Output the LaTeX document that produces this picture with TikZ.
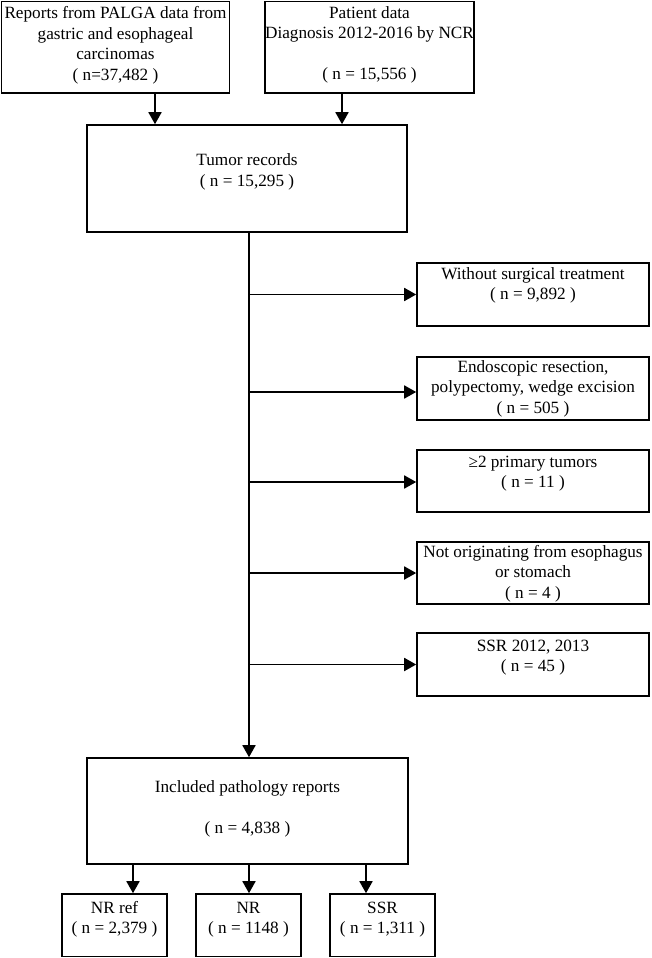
\documentclass[tikz,border=0pt]{standalone}
\usepackage{fontspec}
\setmainfont{Liberation Serif}
\usetikzlibrary{arrows.meta}
\newcommand\bt[4]{\parbox[c][#2][t]{#1}{\centering\vspace*{#3}\strut#4}}
\tikzset{
  bx/.style={draw, line width=1.6pt, inner sep=0pt, font=\fontsize{17.2}{20.5}\selectfont},
  arr/.style={line width=1.8pt, -{Triangle[width=13pt,length=12pt]}},
}
\begin{document}
\begin{tikzpicture}[x=1pt,y=-1pt]
\useasboundingbox (0,0) rectangle (651,958);
\node[bx] (palga) at (115.5,47.25) {\bt{228pt}{91.5pt}{3.1pt}{Reports from PALGA data from\\gastric and esophageal\\carcinomas\\( n=37,482 )}};
\node[bx] (ncr) at (369.5,47.25) {\bt{209pt}{91.5pt}{2.2pt}{Patient data\\Diagnosis 2012-2016 by NCR\\\mbox{}\\( n = 15,556 )}};
\node[bx] (tumor) at (247,178.5) {\bt{320pt}{107pt}{26.6pt}{Tumor records\\( n = 15,295 )}};
\node[bx] (r1) at (533,294.5) {\bt{232pt}{63pt}{1.7pt}{Without surgical treatment\\( n = 9,892 )}};
\node[bx] (r2) at (533,388.5) {\bt{232pt}{63pt}{0.7pt}{Endoscopic resection,\\polypectomy, wedge excision\\( n = 505 )}};
\node[bx] (r3) at (533,481) {\bt{232pt}{62pt}{2.7pt}{≥2 primary tumors\\( n = 11 )}};
\node[bx] (r4) at (533,573) {\bt{232pt}{62pt}{0.7pt}{Not originating from esophagus\\or stomach\\( n = 4 )}};
\node[bx] (r5) at (533,664.5) {\bt{232pt}{63pt}{3.7pt}{SSR 2012, 2013\\( n = 45 )}};
\node[bx] (incl) at (247.5,811) {\bt{321pt}{106pt}{19.7pt}{Included pathology reports\\\mbox{}\\( n = 4,838 )}};
\node[bx] (nrref) at (114.5,925.25) {\bt{105pt}{62.5pt}{4.7pt}{NR ref\\( n = 2,379 )}};
\node[bx] (nr) at (248.5,925.25) {\bt{105pt}{62.5pt}{4.7pt}{NR\\( n = 1148 )}};
\node[bx] (ssr) at (382.5,925.25) {\bt{105pt}{62.5pt}{4.7pt}{SSR\\( n = 1,311 )}};
\coordinate (a1) at (155,0);
\coordinate (a2) at (342,0);
\coordinate (trunk) at (249,0);
\coordinate (b1) at (133,0);
\coordinate (b3) at (366,0);
\draw[arr] (palga.south -| a1) -- (tumor.north -| a1);
\draw[arr] (ncr.south -| a2) -- (tumor.north -| a2);
\draw[arr] (tumor.south -| trunk) -- (incl.north -| trunk);
\draw[arr] (r1.west -| trunk) -- (r1.west);
\draw[arr] ([yshift=-3.5pt]r2.west -| trunk) -- ([yshift=-3.5pt]r2.west);
\draw[arr] ([yshift=-1pt]r3.west -| trunk) -- ([yshift=-1pt]r3.west);
\draw[arr] (r4.west -| trunk) -- (r4.west);
\draw[arr] (r5.west -| trunk) -- (r5.west);
\draw[arr] (incl.south -| b1) -- (nrref.north -| b1);
\draw[arr] (incl.south -| trunk) -- (nr.north -| trunk);
\draw[arr] (incl.south -| b3) -- (ssr.north -| b3);
\end{tikzpicture}
\end{document}
